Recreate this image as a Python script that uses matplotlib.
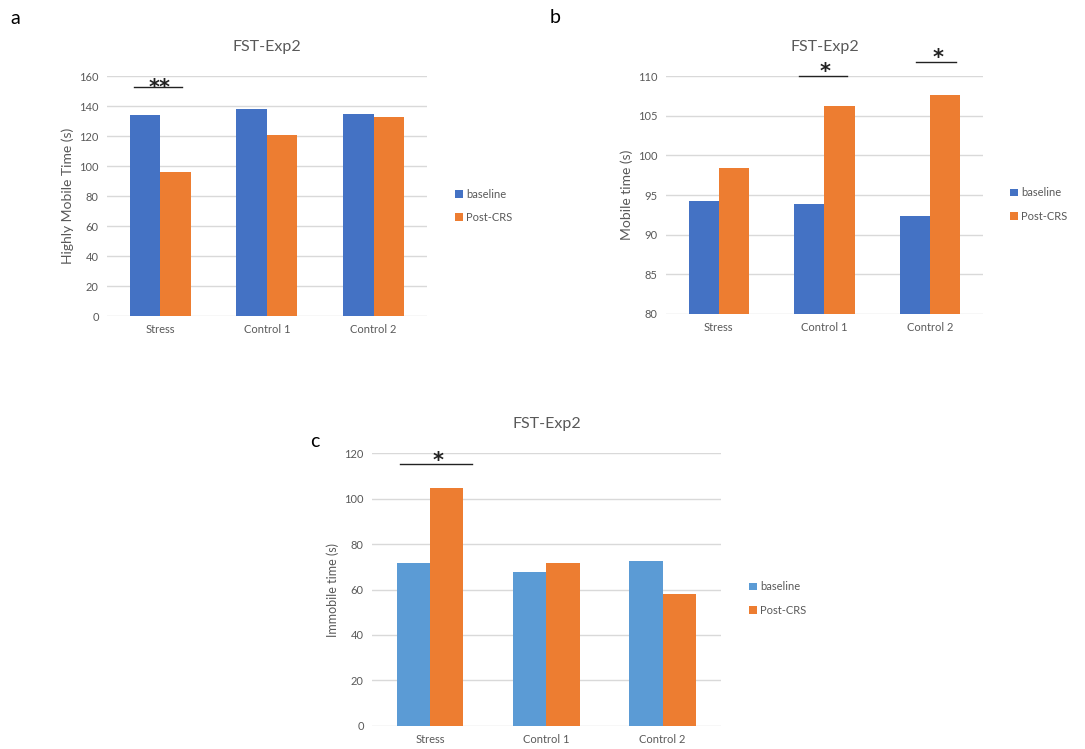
import numpy as np
import matplotlib
matplotlib.use("Agg")
import matplotlib.pyplot as plt

plt.rcParams['font.family'] = ['Lato', 'DejaVu Sans']

groups = ['Stress', 'Control 1', 'Control 2']
series = ['baseline', 'Post-CRS']

mobile_high_base = [134, 138, 134.6]
mobile_high_post = [96, 120.7, 132.6]

mobile_base = [94.2, 93.9, 92.4]
mobile_post = [98.4, 106.2, 107.6]

immobile_base = [71.5, 67.6, 72.4]
immobile_post = [104.7, 71.8, 58.2]

blue = '#4472C4'
light_blue = '#5B9BD5'
orange = '#ED7D31'
grid_c = '#D9D9D9'
text_c = '#595959'

fig = plt.figure(figsize=(10.85, 7.49), dpi=100)


def panel(rect, base, post, ylim, ystep, ylabel, ylsize, c_base, leg_xy):
    ax = fig.add_axes(rect)
    x = np.arange(len(groups))
    w = 0.286
    ax.bar(x - w / 2, np.array(base) - ylim[0], w, bottom=ylim[0], color=c_base,
           label=series[0], zorder=3)
    ax.bar(x + w / 2, np.array(post) - ylim[0], w, bottom=ylim[0], color=orange,
           label=series[1], zorder=3)
    ax.set_xlim(-0.5, 2.5)
    ax.set_ylim(*ylim)
    ax.set_yticks(np.arange(ylim[0], ylim[1] + 0.1, ystep))
    ax.set_xticks(x)
    ax.set_xticklabels(groups)
    ax.grid(axis='y', color=grid_c, linewidth=1, zorder=0)
    for s in ax.spines.values():
        s.set_visible(False)
    ax.tick_params(length=0, labelsize=8, colors=text_c, pad=6)
    ax.set_ylabel(ylabel, fontsize=ylsize, color=text_c)
    ax.set_title('FST-Exp2', fontsize=11.5, color=text_c, pad=18)
    ax.legend(loc='center left', bbox_to_anchor=leg_xy, bbox_transform=fig.transFigure,
              frameon=False, fontsize=8, handlelength=0.7, handleheight=0.7,
              handletextpad=0.3, labelspacing=1.1, labelcolor=text_c)
    return ax


def sig(ax, x0, x1, y, stars, sy):
    ax.plot([x0, x1], [y, y], color='#222222', linewidth=1, clip_on=False, zorder=5)
    ax.text((x0 + x1) / 2 + 0.02, sy, stars, ha='center', va='center', fontsize=15,
            fontweight='bold', color='#222222', family='DejaVu Sans')


axa = panel([0.0986, 0.5781, 0.2949, 0.3204], mobile_high_base, mobile_high_post,
            (0, 160), 20, 'Highly Mobile Time (s)', 10, blue, (0.41, 0.725))
sig(axa, -0.25, 0.2, 152.5, '**', 152)

axb = panel([0.6138, 0.5812, 0.2922, 0.3169], mobile_base, mobile_post,
            (80, 110), 5, 'Mobile time (s)', 10, blue, (0.922, 0.727))
sig(axb, 0.76, 1.21, 110.1, '*', 110.6)
sig(axb, 1.87, 2.24, 111.8, '*', 112.3)

axc = panel([0.3429, 0.0311, 0.3214, 0.3637], immobile_base, immobile_post,
            (0, 120), 20, 'Immobile time (s)', 9, light_blue, (0.681, 0.201))
sig(axc, -0.26, 0.36, 115.2, '*', 116.8)

fig.text(0.010, 0.975, 'a', fontsize=14, va='center')
fig.text(0.507, 0.977, 'b', fontsize=14, va='center')
fig.text(0.286, 0.41, 'c', fontsize=14, va='center')

fig.savefig('out.png', dpi=100)
